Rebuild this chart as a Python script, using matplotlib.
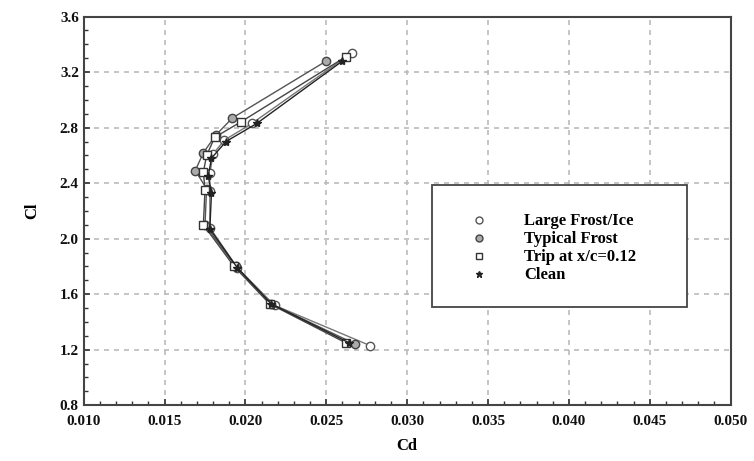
import matplotlib
matplotlib.use("Agg")
import matplotlib.pyplot as plt
from matplotlib.lines import Line2D
from matplotlib.patches import Rectangle
from matplotlib.ticker import MultipleLocator

plt.rcParams["font.family"] = ["Liberation Serif", "DejaVu Serif"]

# drag polar data (Cd, Cl)
series_names = ["Large Frost/Ice", "Typical Frost", "Trip at x/c=0.12", "Clean"]

cd_large = [0.0277, 0.0218, 0.0195, 0.0178, 0.0178, 0.0178, 0.0180, 0.0187, 0.0204, 0.0266]
cl_large = [1.23, 1.52, 1.79, 2.08, 2.34, 2.47, 2.61, 2.71, 2.83, 3.34]

cd_typical = [0.0268, 0.0216, 0.0194, 0.0175, 0.0176, 0.0169, 0.0174, 0.0182, 0.0192, 0.0250]
cl_typical = [1.24, 1.53, 1.80, 2.10, 2.36, 2.49, 2.62, 2.75, 2.87, 3.28]

cd_trip = [0.0262, 0.0215, 0.0193, 0.0174, 0.0175, 0.0174, 0.0176, 0.0181, 0.0197, 0.0262]
cl_trip = [1.25, 1.53, 1.80, 2.10, 2.35, 2.48, 2.60, 2.73, 2.84, 3.31]

cd_clean = [0.0264, 0.0216, 0.0195, 0.0178, 0.0179, 0.0177, 0.0179, 0.0188, 0.0207, 0.0260]
cl_clean = [1.25, 1.53, 1.79, 2.07, 2.33, 2.45, 2.58, 2.70, 2.83, 3.28]

x_ticks = [0.010, 0.015, 0.020, 0.025, 0.030, 0.035, 0.040, 0.045, 0.050]
y_ticks = [0.8, 1.2, 1.6, 2.0, 2.4, 2.8, 3.2, 3.6]

fig = plt.figure(figsize=(7.54, 4.61), dpi=100)
ax = fig.add_axes([0.111, 0.121, 0.858, 0.843])

styles = [
    dict(marker="o", mfc="white", mec="#555555", color="#777777", ms=6),
    dict(marker="o", mfc="#aaaaaa", mec="#444444", color="#555555", ms=6),
    dict(marker="s", mfc="white", mec="#333333", color="#444444", ms=5.5),
    dict(marker="*", mfc="#222222", mec="#222222", color="#222222", ms=6),
]
data = [(cd_large, cl_large), (cd_typical, cl_typical), (cd_trip, cl_trip), (cd_clean, cl_clean)]

for (xs, ys), st in zip(data, styles):
    ax.plot(xs, ys, lw=1.0, mew=1.0, **st)

ax.set_xlim(x_ticks[0], x_ticks[-1])
ax.set_ylim(y_ticks[0], y_ticks[-1])
ax.set_xticks(x_ticks)
ax.set_xticklabels([f"{v:.3f}" for v in x_ticks])
ax.set_yticks(y_ticks)
ax.set_yticklabels([f"{v:.1f}" for v in y_ticks])
ax.xaxis.set_minor_locator(MultipleLocator(0.001))
ax.yaxis.set_minor_locator(MultipleLocator(0.1))
ax.tick_params(which="both", direction="in", colors="#333333", labelsize=11,
               labelcolor="#111111")
ax.tick_params(which="major", length=4, width=1.2)
ax.tick_params(which="minor", length=3, width=1.0)
ax.tick_params(axis="x", pad=7)
for lbl in ax.get_xticklabels() + ax.get_yticklabels():
    lbl.set_fontweight("bold")

ax.grid(True, which="major", color="#bbbbbb", linestyle=(0, (3, 3)), linewidth=1.2)
for s in ax.spines.values():
    s.set_color("#444444")
    s.set_linewidth(1.5)

ax.set_xlabel("Cd", fontsize=12, labelpad=7, fontweight="bold")
ax.set_ylabel("Cl", fontsize=12, labelpad=14, fontweight="bold")

# legend box
ax.add_patch(Rectangle((0.539, 0.252), 0.394, 0.314, transform=ax.transAxes,
                       facecolor="white", edgecolor="#444444", lw=1.3, zorder=4))
handles = [Line2D([], [], ls="none", marker=st["marker"], mfc=st["mfc"], mec=st["mec"],
                  ms=st["ms"] - 1, mew=1.0) for st in styles]
leg = ax.legend(handles, series_names, loc="upper left",
                bbox_to_anchor=(0.585, 0.515), frameon=False,
                prop={"size": 12, "weight": "bold"},
                handlelength=1.0, handletextpad=2.2, labelspacing=0.12,
                borderpad=0.0)
leg.set_zorder(5)

fig.savefig("out.png", dpi=100)
